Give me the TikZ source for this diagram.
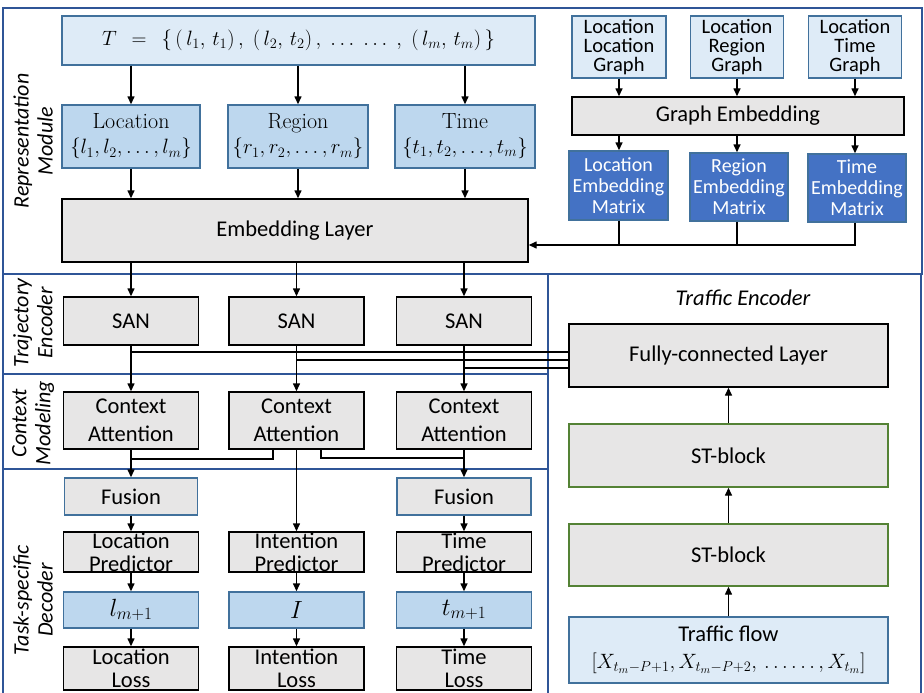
\documentclass[tikz,border=0pt]{standalone}
\usepackage{fontspec}
\setsansfont{Carlito}
\usetikzlibrary{arrows.meta}

\definecolor{paleblue}{HTML}{DEEBF7}
\definecolor{midblue}{HTML}{BDD7EE}
\definecolor{darkblue}{HTML}{4472C4}
\definecolor{edgeblue}{HTML}{41719C}
\definecolor{modblue}{HTML}{2F5597}
\definecolor{boxgray}{HTML}{E7E6E6}
\definecolor{stgreen}{HTML}{548235}

\begin{document}
\begin{tikzpicture}[x=1pt,y=-1pt,
        >={Triangle[length=8pt,width=7pt]},
        every path/.style={line width=1.4pt},
        grey/.style={draw=black,fill=boxgray,inner sep=0pt,align=center,
            font=\sffamily\fontsize{22.5}{23}\selectfont},
        pale/.style={draw=edgeblue,fill=paleblue,inner sep=0pt,align=center,
            font=\sffamily\fontsize{20.5}{19}\selectfont},
        mid/.style={draw=edgeblue,fill=midblue,inner sep=0pt,align=center,
            font=\fontsize{22}{25}\selectfont},
        mat/.style={draw=edgeblue,fill=darkblue,text=white,inner sep=0pt,
            align=center,font=\sffamily\fontsize{20}{21}\selectfont},
        side/.style={rotate=90,align=center,
            font=\sffamily\itshape\fontsize{22}{24}\selectfont},
        module/.style={draw=modblue}]
    \useasboundingbox (0,0) rectangle (924,693);

    % module frames
    \draw[module] (3,8) rectangle (922,274);
    \draw[module] (3,274) rectangle (548,374);
    \draw[module] (3,374) rectangle (548,469);
    \draw[module] (3,693) -- (3,469) -- (548,469) -- (548,693);
    \draw[module] (548,693) -- (548,274) -- (921,274) -- (921,693);

    \node[side] (repl) at (33,141) {Representation\\Module};
    \node[side] (trajl) at (33,323) {Trajectory\\Encoder};
    \node[side] (ctxl) at (33,423) {Context\\Modeling};
    \node[side] (taskl) at (33,600) {Task-specific\\Decoder};
    \node[font=\sffamily\itshape\fontsize{22.5}{24}\selectfont] (trafl) at (743,298) {Traffic Encoder};

    % representation module
    \node[pale,minimum width=473pt,minimum height=49pt,font=\fontsize{22}{25}\selectfont] (T) at (298.5,40.5)
        {$T\;\,=\;\,\{\,(\,l_1,\,t_1)\,,\;(\,l_2,\,t_2)\,,\;\dots\;\dots\;,\;(\,l_m,\,t_m)\,\}$};
    \node[mid,minimum width=138pt,minimum height=63pt] (loc) at (131,136.5) {Location\\$\{l_1,l_2,\dots,l_m\}$};
    \node[mid,minimum width=140pt,minimum height=63pt] (reg) at (298,136.5) {Region\\$\{r_1,r_2,\dots,r_m\}$};
    \node[mid,minimum width=140pt,minimum height=63pt] (tim) at (465,136.5) {Time\\$\{t_1,t_2,\dots,t_m\}$};
    \node[grey,minimum width=466pt,minimum height=63pt] (emb) at (295,230.5) {Embedding Layer};

    \node[pale,minimum width=94pt,minimum height=62pt] (llg) at (619,47) {Location\\Location\\Graph};
    \node[pale,minimum width=93pt,minimum height=62pt] (lrg) at (737,47) {Location\\Region\\Graph};
    \node[pale,minimum width=93pt,minimum height=62pt] (ltg) at (855,47) {Location\\Time\\Graph};
    \node[grey,minimum width=332pt,minimum height=38pt] (ge) at (738,116) {Graph Embedding};
    \node[mat,minimum width=99pt,minimum height=69pt] (lem) at (618.5,185.5) {Location\\Embedding\\Matrix};
    \node[mat,minimum width=98pt,minimum height=68pt] (rem) at (739,187) {Region\\Embedding\\Matrix};
    \node[mat,minimum width=98pt,minimum height=68pt] (tem) at (857,188) {Time\\Embedding\\Matrix};

    \foreach \c in {loc,reg,tim}{
        \draw[->] (\c |- T.south) -- (\c.north);
        \draw[->] (\c.south) -- (\c |- emb.north);
    }
    \foreach \g/\m in {llg/lem,lrg/rem,ltg/tem}{
        \draw[->] (\g.south) -- (\g |- ge.north);
        \draw[->] (\g |- ge.south) -- (\g |- \m.north);
    }
    \draw[->] (ltg |- tem.south) |- (emb.east |- 0,245);
    \draw (llg |- lem.south) -- (llg |- 0,245);
    \draw (lrg |- rem.south) -- (lrg |- 0,245);

    % trajectory encoder and context modeling
    \node[grey,minimum width=135pt,minimum height=48pt] (san1) at (131,321) {SAN};
    \node[grey,minimum width=135pt,minimum height=48pt] (san2) at (296.5,321) {SAN};
    \node[grey,minimum width=135pt,minimum height=48pt] (san3) at (464,321) {SAN};
    \node[grey,minimum width=135pt,minimum height=57pt,font=\sffamily\fontsize{22.5}{28}\selectfont] (ca1) at (131,420.5) {Context\\Attention};
    \node[grey,minimum width=135pt,minimum height=57pt,font=\sffamily\fontsize{22.5}{28}\selectfont] (ca2) at (296.5,420.5) {Context\\Attention};
    \node[grey,minimum width=135pt,minimum height=57pt,font=\sffamily\fontsize{22.5}{28}\selectfont] (ca3) at (464,420.5) {Context\\Attention};

    \foreach \i in {1,2,3}{
        \draw[->] (san\i |- emb.south) -- (san\i.north);
        \draw[->] (san\i.south) -- (ca\i.north);
    }

    % traffic encoder
    \node[grey,minimum width=319pt,minimum height=63pt] (fc) at (728.5,355.5) {Fully-connected Layer};
    \node[grey,draw=stgreen,minimum width=319pt,minimum height=63pt] (st1) at (728.5,455.5) {ST-block};
    \node[grey,draw=stgreen,minimum width=319pt,minimum height=62pt] (st2) at (728.5,555) {ST-block};
    \node[pale,minimum width=319pt,minimum height=66pt,font=\sffamily\fontsize{22.5}{27}\selectfont] (tf) at (728.5,650)
        {Traffic flow\\$[X_{t_m-P+1},X_{t_m-P+2},\,\dots\dots,X_{t_m}]$};
    \draw[->] (tf) -- (st2);
    \draw[->] (st2) -- (st1);
    \draw[->] (st1) -- (fc);

    \draw (san1.south |- 0,352) -- (fc.west |- 0,352);
    \draw (san2.south |- 0,360) -- (fc.west |- 0,360);
    \draw (san3.south |- 0,368) -- (fc.west |- 0,368);

    % task-specific decoder
    \node[grey,draw=edgeblue,minimum width=133pt,minimum height=37pt] (fu1) at (131,496.5) {Fusion};
    \node[grey,draw=edgeblue,minimum width=134pt,minimum height=37pt] (fu3) at (464,496.5) {Fusion};
    \node[grey,minimum width=135pt,minimum height=40pt] (pr1) at (131,552) {Location\\Predictor};
    \node[grey,minimum width=135pt,minimum height=40pt] (pr2) at (296.5,552) {Intention\\Predictor};
    \node[grey,minimum width=135pt,minimum height=40pt] (pr3) at (464,552) {Time\\Predictor};
    \node[mid,minimum width=135pt,minimum height=36pt,font=\fontsize{26}{28}\selectfont] (out1) at (131,610) {$l_{m+1}$};
    \node[mid,minimum width=135pt,minimum height=36pt,font=\fontsize{26}{28}\selectfont] (out2) at (296.5,610) {$I$};
    \node[mid,minimum width=135pt,minimum height=36pt,font=\fontsize{26}{28}\selectfont] (out3) at (464,610) {$t_{m+1}$};
    \node[grey,minimum width=135pt,minimum height=43pt] (los1) at (131,668.5) {Location\\Loss};
    \node[grey,minimum width=135pt,minimum height=43pt] (los2) at (296.5,668.5) {Intention\\Loss};
    \node[grey,minimum width=135pt,minimum height=43pt] (los3) at (464,668.5) {Time\\Loss};

    \draw ([xshift=-23.5pt]ca2.south) |- (ca1.south |- 0,459);
    \draw ([xshift=24.5pt]ca2.south) |- (ca3.south |- 0,458);
    \draw[->] (ca1.south) -- (fu1.north);
    \draw[->] (ca3.south) -- (fu3.north);
    \draw[->] (ca2.south) -- (pr2.north);
    \draw[->] (fu1) -- (pr1);
    \draw[->] (fu3) -- (pr3);
    \foreach \i in {1,2,3}{
        \draw[->] (pr\i) -- (out\i);
        \draw[->] (out\i) -- (los\i);
    }
\end{tikzpicture}
\end{document}
